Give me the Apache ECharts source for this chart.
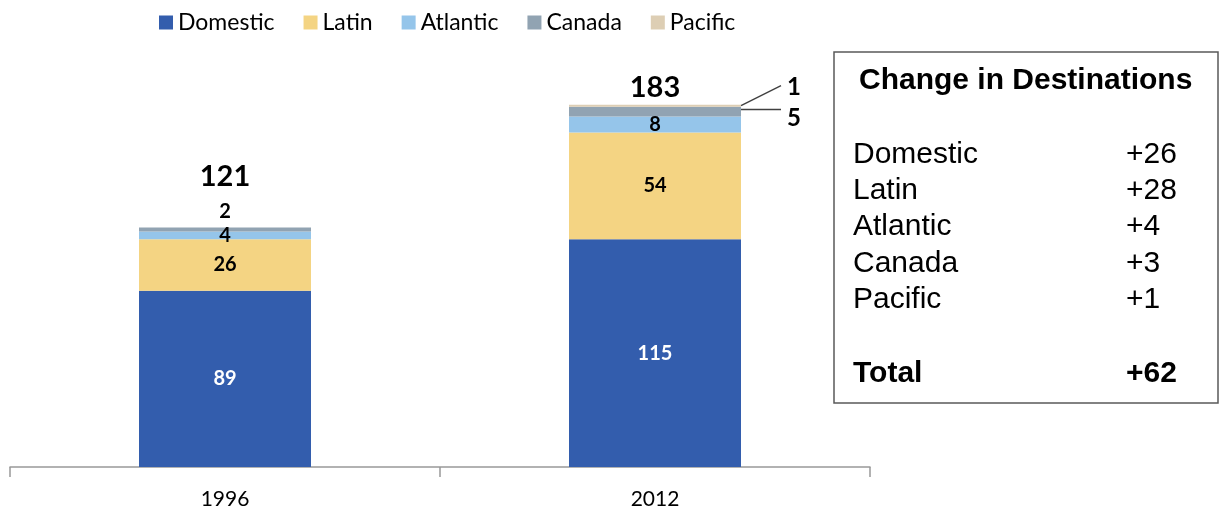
<!DOCTYPE html>
<html><head><meta charset="utf-8">
<script src="https://cdn.jsdelivr.net/npm/echarts@6/dist/echarts.min.js"></script>
<style>html,body{margin:0;padding:0;background:#fff}#c{width:1219px;height:512px}</style>
</head><body><div id="c"></div>
<script>
const years = ['1996', '2012'];
const seriesNames = ['Domestic', 'Latin', 'Atlantic', 'Canada', 'Pacific'];
const domestic = [89, 115];
const latin = [26, 54];
const atlantic = [4, 8];
const canada = [2, 5];
const pacific = [0, 1];
const totals = [121, 183];
const colors = ['#335DAD', '#F4D483', '#95C5EA', '#91A3B2', '#DDCEB4'];
const values = [domestic, latin, atlantic, canada, pacific];

const chart = echarts.init(document.getElementById('c'), null, {renderer: 'canvas'});
const labelFont = {fontFamily: 'Lato', fontWeight: 'bold', fontSize: 20};

function segLabel(si, di) {
  const base = Object.assign({show: true, position: 'inside', color: si === 0 ? '#fff' : '#000'}, labelFont);
  if (si === 3 && di === 0) return Object.assign(base, {position: 'top', distance: 6});
  if ((si === 3 && di === 1) || si === 4) return {show: false};
  return base;
}

const series = values.map((arr, si) => ({
  name: seriesNames[si], type: 'bar', stack: 'a', barWidth: '40%',
  itemStyle: {color: colors[si]},
  data: arr.map((v, di) => ({value: v, label: segLabel(si, di)}))
}));
series.push({
  name: 'total', type: 'scatter', symbolSize: 0, itemStyle: {opacity: 1},
  data: totals.map((v, di) => ({value: v, label: {show: true, position: 'top', distance: di === 0 ? 36 : 3,
    color: '#000', opacity: 1, fontFamily: 'Lato', fontWeight: 'bold', fontSize: 29}})),
  silent: true, z: 5
});

chart.setOption({
  animation: false,
  color: colors,
  legend: {
    data: seriesNames, left: 154, top: 6, itemWidth: 14, itemHeight: 14, itemGap: 29,
    icon: 'rect', textStyle: {fontFamily: 'Lato', fontSize: 23, color: '#000'}
  },
  grid: {left: 10, right: 349, top: 71, bottom: 45},
  xAxis: {
    type: 'category', data: years,
    axisLine: {lineStyle: {color: '#999', width: 1.5}},
    axisTick: {show: true, length: 10, lineStyle: {color: '#999', width: 1.5}},
    axisLabel: {fontFamily: 'Lato', fontSize: 21, color: '#000', margin: 22}
  },
  yAxis: {type: 'value', min: 0, max: 200, show: false, splitLine: {show: false}},
  series: series
});

// leader lines and labels for the small 2012 segments
const cum = (si, di) => values.slice(0, si).reduce((s, a) => s + a[di], 0);
const graphics = [];
const pc = chart.convertToPixel({gridIndex: 0}, [1, cum(3, 1) + canada[1] / 2]);
const pp = chart.convertToPixel({gridIndex: 0}, [1, cum(4, 1) + pacific[1]]);
const barRight = chart.convertToPixel({gridIndex: 0}, [1, 0])[0] + 86;
graphics.push({type: 'line', shape: {x1: barRight, y1: pc[1] - 2, x2: barRight + 40, y2: pc[1] - 2}, style: {stroke: '#404040', lineWidth: 1.5}});
graphics.push({type: 'text', x: barRight + 46, y: pc[1] + 7, style: {text: String(canada[1]), fill: '#000', font: 'bold 24px Lato', textAlign: 'left', textVerticalAlign: 'middle'}});
graphics.push({type: 'line', shape: {x1: barRight, y1: pp[1] + 1, x2: barRight + 40, y2: pp[1] - 19}, style: {stroke: '#404040', lineWidth: 1.5}});
graphics.push({type: 'text', x: barRight + 46, y: pp[1] - 17, style: {text: String(pacific[1]), fill: '#000', font: 'bold 24px Lato', textAlign: 'left', textVerticalAlign: 'middle'}});

// change box
const F = '"Liberation Sans", Arial, sans-serif';
graphics.push({type: 'rect', shape: {x: 834, y: 52, width: 384, height: 351}, style: {fill: '#fff', stroke: '#595959', lineWidth: 1.5}});
graphics.push({type: 'text', x: 859, y: 81, style: {text: 'Change in Destinations', fill: '#000', font: 'bold 30px ' + F, textVerticalAlign: 'middle'}});
const rowY = [155, 191, 227, 264, 300];
seriesNames.forEach((n, i) => {
  const d = values[i][1] - values[i][0];
  graphics.push({type: 'text', x: 853, y: rowY[i], style: {text: n, fill: '#000', font: '30px ' + F, textVerticalAlign: 'middle'}});
  graphics.push({type: 'text', x: 1126, y: rowY[i], style: {text: '+' + d, fill: '#000', font: '30px ' + F, textVerticalAlign: 'middle'}});
});
graphics.push({type: 'text', x: 853, y: 374, style: {text: 'Total', fill: '#000', font: 'bold 30px ' + F, textVerticalAlign: 'middle'}});
graphics.push({type: 'text', x: 1126, y: 374, style: {text: '+' + (totals[1] - totals[0]), fill: '#000', font: 'bold 30px ' + F, textVerticalAlign: 'middle'}});
chart.setOption({graphic: graphics});
</script>
</body></html>
